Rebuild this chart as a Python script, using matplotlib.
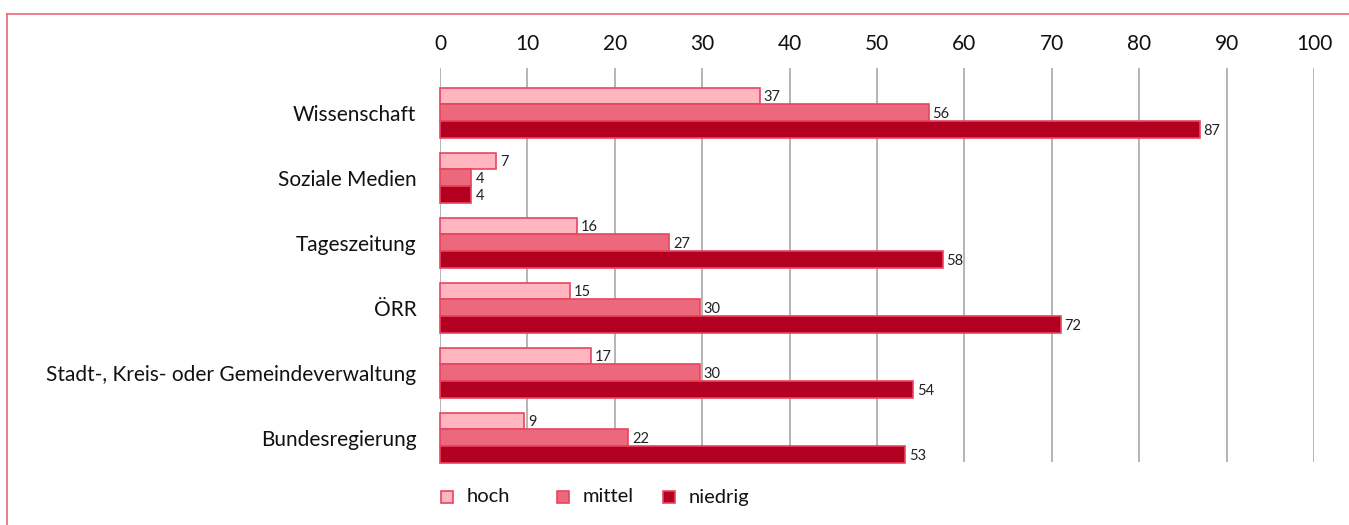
import numpy as np
import matplotlib.pyplot as plt
from matplotlib.lines import Line2D
from matplotlib.patches import Rectangle

plt.rcParams['font.family'] = ['Lato', 'DejaVu Sans']

##
# Data (bar lengths as drawn, labels as printed)
##
categories = ['Wissenschaft', 'Soziale Medien', 'Tageszeitung', 'ÖRR',
              'Stadt-, Kreis- oder Gemeindeverwaltung', 'Bundesregierung']
series = ['hoch', 'mittel', 'niedrig']
hoch = [36.6, 6.4, 15.7, 14.9, 17.3, 9.6]
mittel = [55.9, 3.6, 26.2, 29.7, 29.7, 21.5]
niedrig = [86.9, 3.6, 57.5, 71.0, 54.1, 53.2]
hoch_labels = [37, 7, 16, 15, 17, 9]
mittel_labels = [56, 4, 27, 30, 30, 22]
niedrig_labels = [87, 4, 58, 72, 54, 53]
x_ticks = [0, 10, 20, 30, 40, 50, 60, 70, 80, 90, 100]

colors = ['#FFB6C1', '#EC687D', '#B30021']
edge = '#E84560'

W, H = 1349, 525
fig = plt.figure(figsize=(W / 100, H / 100), dpi=100)
ax = fig.add_axes([440 / W, 1 - 462 / H, 874 / W, 394 / H])

y = np.arange(len(categories))
bh = 0.26
data = [(hoch, hoch_labels), (mittel, mittel_labels), (niedrig, niedrig_labels)]
for k, ((vals, labs), col) in enumerate(zip(data, colors)):
    yy = y + (k - 1) * bh
    ax.barh(yy, vals, height=bh, color=col, edgecolor=edge, linewidth=1.2,
            zorder=3, clip_on=False)
    for v, lab, yv in zip(vals, labs, yy):
        ax.text(v + 0.45, yv + 0.02, str(lab), va='center', ha='left',
                fontsize=10.5, color='#222222', zorder=4)

ax.set_xlim(0, 100)
ax.set_ylim(5.37, -0.69)
ax.set_xticks(x_ticks)
ax.xaxis.tick_top()
ax.tick_params(axis='x', length=0, pad=10, labelsize=15, colors='#111111')
ax.set_yticks(y)
ax.set_yticklabels(categories)
ax.tick_params(axis='y', length=0, pad=17, labelsize=15, colors='#111111')
ax.grid(axis='x', color='#A8A8A8', linewidth=1.2, zorder=0)
for s in ax.spines.values():
    s.set_visible(False)

##
# Legend
##
leg_x = [447, 563, 669]
for name, col, lx in zip(series, colors, leg_x):
    fig.add_artist(Rectangle(((lx - 6) / W, 1 - 503 / H), 12 / W, 12 / H,
                             facecolor=col, edgecolor=edge, linewidth=1.2,
                             transform=fig.transFigure))
    fig.text((lx + 20) / W, 1 - 497 / H, name, va='center', ha='left',
             fontsize=14.5, color='#111111')

##
# Frame lines
##
border = '#E8677A'
fig.add_artist(Line2D([7 / W, 1], [1 - 14 / H, 1 - 14 / H], color=border,
                      linewidth=1.2, transform=fig.transFigure))
fig.add_artist(Line2D([7 / W, 7 / W], [0, 1 - 14 / H], color=border,
                      linewidth=1.2, transform=fig.transFigure))

fig.savefig('out.png', dpi=100)
